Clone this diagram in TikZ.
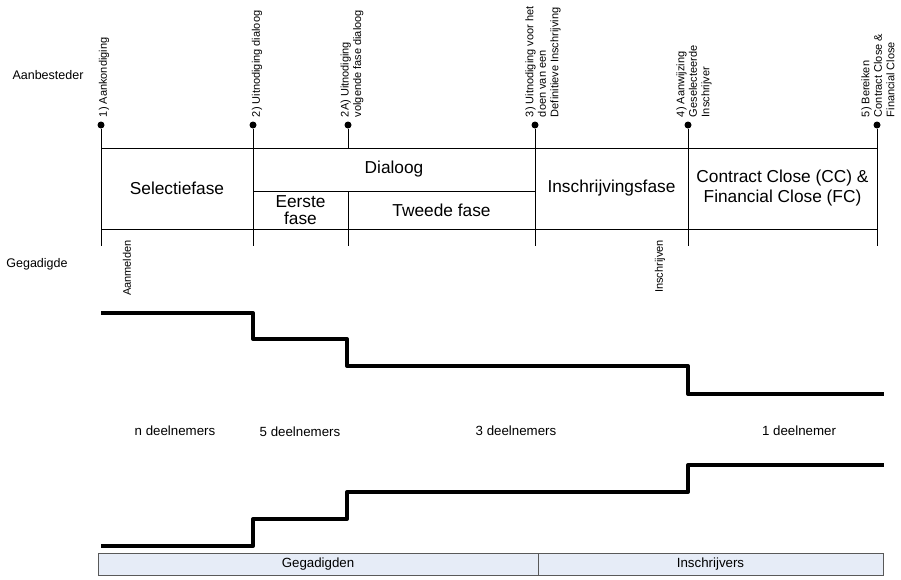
\documentclass[tikz,border=0pt]{standalone}
\usepackage{fontspec}
\setmainfont{Liberation Sans}
\definecolor{balk}{HTML}{E6ECF7}

\begin{document}
\begin{tikzpicture}[
        x=1pt, y=-1pt,
        fase/.style={draw, line width=0.9pt, inner sep=0pt, align=center,
            font=\fontsize{17.3}{20}\selectfont},
        mijlpaal/.style={circle, fill, inner sep=0pt, minimum size=7pt},
        mijltekst/.style={rotate=90, anchor=west, align=left, inner sep=0pt,
            font=\fontsize{11}{12.5}\selectfont},
        klein/.style={font=\fontsize{12.5}{14}\selectfont},
        telling/.style={font=\fontsize{13.3}{15}\selectfont},
        trap/.style={line width=4pt, line join=round},
        balkvak/.style={draw=black!65, fill=balk, line width=1pt, inner sep=0pt,
            minimum height=22pt, font=\fontsize{13.3}{15}\selectfont}
    ]
    \useasboundingbox (0,0) rectangle (901,579);

    % rollen
    \node[klein] (aanbesteder) at (48,75) {Aanbesteder};
    \node[klein] (gegadigde) at (37,264) {Gegadigde};

    % mijlpalen
    \coordinate (onder) at (0,246);
    \coordinate (boven) at (0,148);
    \coordinate (midden) at (0,191);
    \foreach \x/\naam in {101/m1, 253/m2, 348/m2a, 535/m3, 688/m4, 877/m5} {
        \node[mijlpaal] (\naam) at (\x,125) {};
    }
    \foreach \naam in {m1,m2,m3,m4,m5} {
        \draw [thin] (\naam) -- (\naam |- onder);
    }
    \draw [thin] (m2a) -- (m2a |- boven);
    \draw [thin] (m2a |- midden) -- (m2a |- onder);

    \node[mijltekst] at ([xshift=3pt,yshift=4pt]m1.north) {1) Aankondiging};
    \node[mijltekst] at ([xshift=4pt,yshift=4pt]m2.north) {2) Uitnodiging dialoog};
    \node[mijltekst] at ([xshift=4pt,yshift=4pt]m2a.north) {2A) Uitnodiging\\volgende fase dialoog};
    \node[mijltekst] at ([xshift=8pt,yshift=4pt]m3.north) {3) Uitnodiging voor het\\doen van een\\Definitieve Inschrijving};
    \node[mijltekst] at ([xshift=6pt,yshift=4pt]m4.north) {4) Aanwijzing\\Geselecteerde\\Inschrijver};
    \node[mijltekst] at ([xshift=1pt,yshift=4pt]m5.north) {5) Bereiken\\Contract Close \&\\Financial Close};

    % fasen
    \node[fase, minimum width=152pt, minimum height=81pt] (selectie) at (177,188.5) {Selectiefase};
    \node[fase, minimum width=282pt, minimum height=43pt] (dialoog) at (394,169.5) {Dialoog};
    \node[fase, minimum width=95pt, minimum height=38pt] (eerste) at (300.5,210) {Eerste\\[-3pt]fase};
    \node[fase, minimum width=187pt, minimum height=38pt] (tweede) at (441.5,210) {Tweede fase};
    \node[fase, minimum width=153pt, minimum height=81pt] (inschrijving) at (611.5,188.5) {Inschrijvingsfase};
    \node[fase, minimum width=189pt, minimum height=81pt] (close) at (782.5,188.5) {Contract Close (CC) \&\\Financial Close (FC)};

    % handelingen gegadigde
    \node[mijltekst, anchor=east] (aanmelden) at (127,240) {Aanmelden};
    \node[mijltekst, anchor=east] (inschrijven) at (660,240) {Inschrijven};

    % aantal deelnemers
    \draw [trap] (101,313) -- (253,313) -- (253,339) -- (347,339) -- (347,366)
        -- (688,366) -- (688,394) -- (884,394);
    \draw [trap] (101,546) -- (253,546) -- (253,519) -- (347,519) -- (347,492)
        -- (688,492) -- (688,465) -- (884,465);

    \node[telling] (n) at (175,431) {n deelnemers};
    \node[telling] (vijf) at (300,432) {5 deelnemers};
    \node[telling] (drie) at (516,431) {3 deelnemers};
    \node[telling] (een) at (799,431) {1 deelnemer};

    % balk
    \node[balkvak, minimum width=440pt] (gegadigden) at (318,564) {Gegadigden};
    \node[balkvak, minimum width=345pt] (inschrijvers) at (710.5,564) {Inschrijvers};
\end{tikzpicture}
\end{document}
